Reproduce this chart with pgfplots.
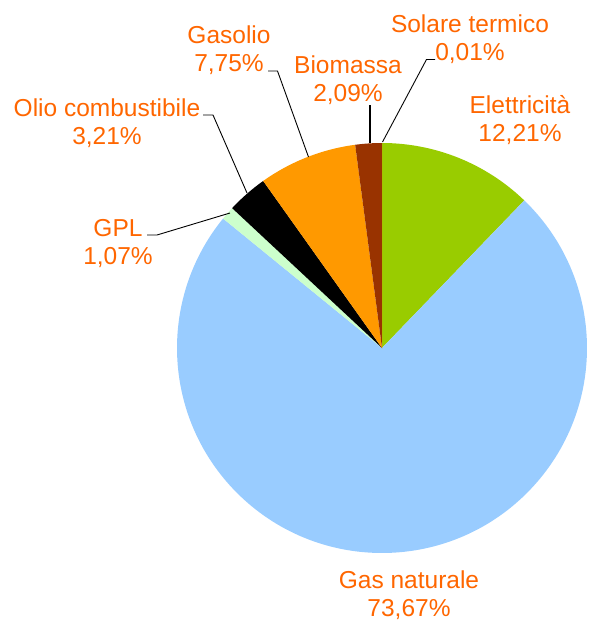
\documentclass[border=0pt]{standalone}
\usepackage{pgfplots}
\usepackage{pgfplotstable}
\pgfplotsset{compat=1.18}
\usepackage{fontspec}
\setmainfont{Liberation Sans}
\definecolor{elet}{HTML}{99CC00}
\definecolor{gas}{HTML}{99CCFF}
\definecolor{gpl}{HTML}{CCFFCC}
\definecolor{olio}{HTML}{000000}
\definecolor{gasolio}{HTML}{FF9900}
\definecolor{bio}{HTML}{993300}
\definecolor{solare}{HTML}{FFFF00}
\definecolor{lab}{HTML}{FF6600}
\tikzset{lbl/.style={anchor=base,text=lab,inner sep=0pt,font=\fontsize{24.5}{28}\selectfont}}

% share (%), slice colour, label position (pixel coords, first baseline)
\pgfplotstableread[col sep=comma]{
name,value,color,lx,ly
Elettricità,12.21,elet,520,113
Gas naturale,73.67,gas,409,588
GPL,1.07,gpl,118,236
Olio combustibile,3.21,olio,107,116
Gasolio,7.75,gasolio,229,43
Biomassa,2.09,bio,348,73
Solare termico,0.01,solare,470,32
}\piedata

\def\cx{382}\def\cy{348}\def\rad{205pt}
\def\piecmds{}
\def\cumangle{90}
\pgfplotstablegetrowsof{\piedata}
\pgfmathtruncatemacro\lastrow{\pgfplotsretval-1}
\pgfplotsforeachungrouped \i in {0,...,\lastrow}{%
  \pgfplotstablegetelem{\i}{value}\of\piedata\let\v\pgfplotsretval
  \pgfplotstablegetelem{\i}{color}\of\piedata\let\c\pgfplotsretval
  \pgfplotstablegetelem{\i}{name}\of\piedata\let\n\pgfplotsretval
  \pgfplotstablegetelem{\i}{lx}\of\piedata\let\lx\pgfplotsretval
  \pgfplotstablegetelem{\i}{ly}\of\piedata\let\ly\pgfplotsretval
  \pgfmathsetmacro\endangle{\cumangle-3.6*\v}%
  \pgfmathsetmacro\lyb{\ly+28}%
  \pgfmathprintnumberto[fixed,fixed zerofill,precision=2,use comma,assume math mode=true]{\v}\pct
  \edef\piecmds{\unexpanded\expandafter{\piecmds}%
    \noexpand\fill[\c] (axis cs:\cx,\cy) -- ++(\cumangle:\rad)
      arc[start angle=\cumangle, end angle=\endangle, radius=\rad] -- cycle;
    \noexpand\node[lbl] at (axis cs:\lx,\ly) {\n};
    \noexpand\node[lbl] at (axis cs:\lx,\lyb) {\unexpanded\expandafter{\pct}\noexpand\%};
  }%
  \let\cumangle\endangle
}

\begin{document}
\begin{tikzpicture}
\begin{axis}[
  width=588pt, height=622pt, scale only axis,
  xmin=0, xmax=588, ymin=0, ymax=622, y dir=reverse,
  hide axis, clip=false,
]
\path (axis cs:0,0) rectangle (axis cs:588,622);
\piecmds
% leader lines
\draw[black, line width=0.9pt] (axis cs:435,59.5) -- (axis cs:426.5,59.5) -- (axis cs:382.5,142);
\draw[black, line width=1.8pt] (axis cs:370,105) -- (axis cs:370,143);
\draw[black, line width=0.9pt] (axis cs:268,71) -- (axis cs:277.5,71) -- (axis cs:308.5,157);
\draw[black, line width=0.9pt] (axis cs:203,115) -- (axis cs:213,115) -- (axis cs:247,193);
\draw[black, line width=0.9pt] (axis cs:147,235) -- (axis cs:157,235) -- (axis cs:230,213);
\end{axis}
\end{tikzpicture}
\end{document}
